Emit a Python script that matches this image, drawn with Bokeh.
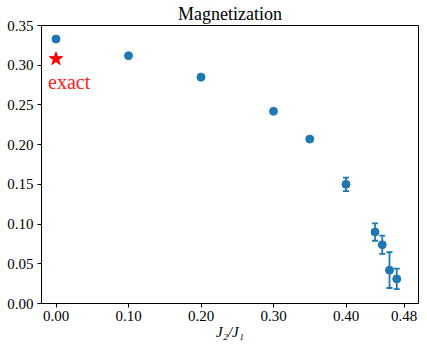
from bokeh.plotting import figure
from bokeh.models import FixedTicker, NumeralTickFormatter, Range1d, ColumnDataSource
from bokeh.core.properties import value
from bokeh.embed import file_html
from bokeh.resources import INLINE

# Data
j_ratio = [0.0, 0.1, 0.2, 0.3, 0.35, 0.4, 0.44, 0.45, 0.46, 0.47]
magnet = [0.333, 0.312, 0.285, 0.242, 0.207, 0.150, 0.090, 0.074, 0.042, 0.031]
magnet_err = [0.0, 0.0, 0.0, 0.0, 0.0, 0.0086, 0.011, 0.0115, 0.0225, 0.013]
exact_x = [0.0]
exact_y = [0.308]
exact_label = ["exact"]
x_ticks = [0.0, 0.1, 0.2, 0.3, 0.4, 0.48]
y_ticks = [0.0, 0.05, 0.10, 0.15, 0.20, 0.25, 0.30, 0.35]

FONT = "'Liberation Serif', serif"
BLUE = "#1f77b4"

p = figure(width=419, height=342, output_backend="svg", toolbar_location=None,
           x_range=Range1d(-0.02, 0.5), y_range=Range1d(0.0, 0.35),
           min_border_left=41, min_border_right=1, min_border_top=25, min_border_bottom=37)

p.background_fill_color = "white"
p.border_fill_color = "white"
p.outline_line_color = "black"
p.outline_line_width = 1
p.grid.visible = False

p.title.text = "Magnetization"
p.title.align = "center"
p.title.text_font = FONT
p.title.text_font_size = "18px"
p.title.text_font_style = "normal"
p.title.text_color = "black"
p.title.standoff = 3

for ax in (p.xaxis[0], p.yaxis[0]):
    ax.major_label_text_font = FONT
    ax.major_label_text_font_size = "15px"
    ax.major_label_text_color = "black"
    ax.axis_line_color = "black"
    ax.major_tick_line_color = "black"
    ax.major_tick_in = 0
    ax.major_tick_out = 4
    ax.minor_tick_line_color = None
    ax.formatter = NumeralTickFormatter(format="0.00")

p.xaxis.ticker = FixedTicker(ticks=x_ticks)
p.yaxis.ticker = FixedTicker(ticks=y_ticks)
p.xaxis.major_label_standoff = 3
p.yaxis.major_label_standoff = 4

p.xaxis.axis_label = "J\u2082/J\u2081"
p.xaxis.axis_label_text_font = FONT
p.xaxis.axis_label_text_font_size = "15px"
p.xaxis.axis_label_text_font_style = "italic"
p.xaxis.axis_label_text_color = "black"
p.xaxis.axis_label_standoff = 0

src = ColumnDataSource(dict(x=j_ratio, y=magnet))

idx = [i for i, e in enumerate(magnet_err) if e > 0]
esrc = ColumnDataSource(dict(
    x=[j_ratio[i] for i in idx],
    lo=[magnet[i] - magnet_err[i] for i in idx],
    hi=[magnet[i] + magnet_err[i] for i in idx],
))
p.segment(x0="x", y0="lo", x1="x", y1="hi", source=esrc, line_color=BLUE, line_width=1.8)
p.scatter(x="x", y="lo", source=esrc, marker="dash", size=6, line_color=BLUE, line_width=1.8)
p.scatter(x="x", y="hi", source=esrc, marker="dash", size=6, line_color=BLUE, line_width=1.8)

p.scatter(x="x", y="y", source=src, size=8, fill_color=BLUE, line_color=BLUE)

p.scatter(x=exact_x, y=exact_y, marker="star", size=14, fill_color="red", line_color="red")
p.text(x=exact_x, y=exact_y, text=exact_label, x_offset=-8, y_offset=23,
       text_font=value(FONT), text_font_size="20px", text_color="#ff2020",
       text_baseline="alphabetic", text_align="left")

open("out.html", "w").write(file_html(p, INLINE))
